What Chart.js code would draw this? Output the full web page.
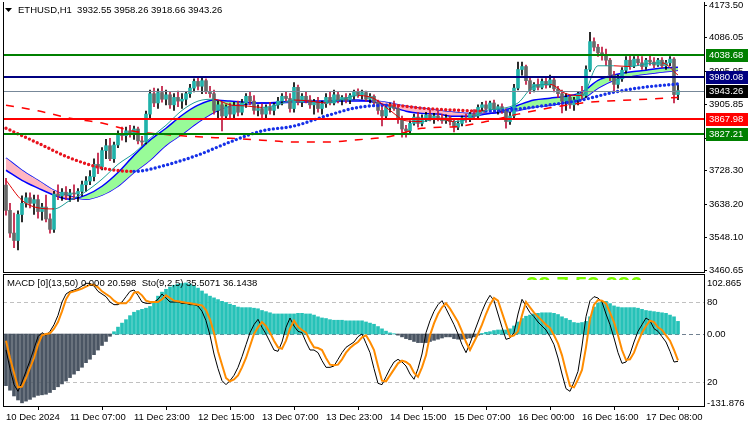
<!DOCTYPE html>
<html><head><meta charset="utf-8">
<script src="https://cdn.jsdelivr.net/npm/chart.js@4.4.1/dist/chart.umd.min.js"></script>
<style>
html,body{margin:0;padding:0;background:#fff;width:750px;height:430px;overflow:hidden}
canvas{position:absolute;left:0}
#c1{top:0}
#c2{top:272px}
</style></head><body>
<canvas id="c1" width="750" height="275"></canvas>
<canvas id="c2" width="750" height="158"></canvas>
<script>
// ---------------- DATA ----------------
const symbolTitle = "ETHUSD,H1  3932.55 3958.26 3918.66 3943.26";
const subTitle = "MACD [0](13,50) 0.000 20.598  Sto(9,2,5) 35.5071 36.1438";
const xTickBars = [0,16,32,48,64,80,96,112,128,144,160];
const xTickLabels = ["10 Dec 2024","11 Dec 07:00","11 Dec 23:00","12 Dec 15:00","13 Dec 07:00","13 Dec 23:00","14 Dec 15:00","15 Dec 07:00","16 Dec 00:00","16 Dec 16:00","17 Dec 08:00"];
const priceTicks = [4173.50,4086.05,3995.95,3905.85,3815.75,3728.30,3638.20,3548.10,3460.65];
const levelPrices = [4038.68,3980.08,3943.26,3867.98,3827.21];
const subLabels = ["102.865","0.00","-131.876"];
const stochLevels = [80,20];

const opens = [3689,3621,3560,3540,3610,3640,3655,3640,3650,3618,3630,3598,3570,3665,3660,3670,3662,3668,3665,3672,3690,3700,3712,3745,3738,3782,3795,3760,3797,3828,3822,3835,3830,3840,3808,3805,3880,3935,3910,3938,3920,3932,3905,3925,3915,3920,3935,3950,3968,3955,3970,3940,3935,3890,3905,3875,3900,3880,3902,3885,3910,3928,3915,3890,3895,3880,3898,3890,3905,3915,3928,3922,3895,3952,3912,3928,3918,3905,3912,3895,3908,3925,3910,3932,3918,3925,3918,3930,3940,3932,3938,3920,3928,3912,3890,3875,3898,3905,3895,3865,3840,3835,3855,3872,3855,3870,3878,3868,3875,3870,3862,3870,3860,3845,3855,3870,3865,3880,3875,3898,3905,3895,3910,3892,3900,3890,3860,3875,3950,4000,4008,3970,3945,3960,3952,3968,3958,3972,3948,3935,3915,3925,3905,3918,3935,3930,4000,4075,4060,4045,4040,4025,3985,3960,3975,3998,4025,4010,4028,4018,4008,4025,4020,4012,4025,4010,4018,4028,3932.55];
const highs = [3707,3640,3614,3620,3660,3668,3668,3662,3662,3640,3662,3612,3672,3690,3680,3685,3678,3690,3680,3700,3712,3728,3760,3775,3790,3812,3815,3805,3835,3845,3845,3850,3848,3845,3820,3888,3945,3950,3948,3955,3945,3940,3935,3942,3935,3940,3960,3975,3980,3978,3975,3955,3945,3915,3912,3905,3910,3912,3915,3920,3935,3940,3930,3905,3908,3905,3912,3910,3925,3935,3940,3935,3965,3958,3935,3940,3930,3920,3925,3915,3935,3940,3945,3940,3930,3935,3935,3945,3948,3945,3942,3935,3932,3918,3905,3902,3910,3915,3905,3875,3850,3862,3880,3885,3878,3885,3890,3882,3888,3880,3878,3875,3865,3862,3875,3880,3885,3892,3905,3912,3915,3915,3918,3905,3908,3895,3885,3960,4020,4020,4012,3980,3965,3975,3975,3978,3985,3980,3955,3945,3935,3930,3925,3940,3955,4010,4100,4085,4068,4060,4055,4030,3995,3985,4005,4035,4040,4035,4040,4035,4030,4040,4032,4030,4032,4025,4035,4032,3958.26];
const lows = [3608,3548,3521,3515,3590,3630,3628,3610,3600,3595,3590,3560,3562,3650,3648,3650,3645,3650,3645,3660,3672,3690,3700,3720,3730,3760,3755,3750,3790,3810,3805,3818,3812,3800,3795,3800,3870,3900,3895,3912,3905,3895,3890,3900,3895,3905,3925,3940,3945,3935,3935,3925,3880,3870,3835,3865,3870,3870,3875,3878,3898,3905,3880,3875,3870,3870,3880,3878,3895,3905,3915,3885,3885,3905,3900,3910,3895,3880,3885,3880,3898,3905,3905,3910,3905,3910,3908,3920,3925,3920,3915,3910,3905,3880,3848,3868,3885,3890,3855,3818,3818,3828,3850,3845,3848,3860,3862,3855,3862,3855,3855,3850,3832,3838,3848,3858,3860,3870,3870,3888,3890,3888,3885,3880,3882,3842,3852,3870,3945,3985,3960,3935,3940,3945,3948,3950,3952,3940,3925,3883,3890,3895,3890,3905,3920,3925,3995,4050,4035,4025,4010,3970,3939,3950,3968,3990,4000,4005,4010,4000,4000,4012,4005,4008,4005,4000,4010,3910,3918.66];
const closes = [3621,3560,3540,3610,3640,3655,3640,3650,3618,3630,3598,3570,3665,3660,3670,3662,3668,3665,3672,3690,3700,3712,3745,3738,3782,3795,3760,3797,3828,3822,3835,3830,3840,3808,3805,3880,3935,3910,3938,3920,3932,3905,3925,3915,3920,3935,3950,3968,3955,3970,3940,3935,3890,3905,3875,3900,3880,3902,3885,3910,3928,3915,3890,3895,3880,3898,3890,3905,3915,3928,3922,3895,3952,3912,3928,3918,3905,3912,3895,3908,3925,3910,3932,3918,3925,3918,3930,3940,3932,3938,3920,3928,3912,3890,3875,3898,3905,3895,3865,3840,3835,3855,3872,3855,3870,3878,3868,3875,3870,3862,3870,3860,3845,3855,3870,3865,3880,3875,3898,3905,3895,3910,3892,3900,3890,3860,3875,3950,4000,4008,3970,3945,3960,3952,3968,3958,3972,3948,3935,3915,3925,3905,3918,3935,3930,4000,4075,4060,4045,4040,4025,3985,3960,3975,3998,4025,4010,4028,4018,4008,4025,4020,4012,4025,4010,4018,4028,3932.55,3943.26];

// moving averages (read every 4 / 8 bars)
const maBars4 = [0,4,8,12,16,20,24,28,32,36,40,44,48,52,56,60,64,68,72,76,80,84,88,92,96,100,104,108,112,116,120,124,128,132,136,140,144,148,152,156,160,164,168];
const fastMA = [3702,3648,3628,3625,3648,3672,3705,3745,3775,3815,3850,3890,3915,3920,3905,3902,3898,3905,3918,3915,3910,3920,3930,3922,3890,3862,3860,3868,3860,3868,3890,3895,3910,3955,3960,3935,3930,4010,4010,4008,4015,4018,3985];
const bandFast = [3729,3702,3681,3662,3651,3662,3686,3723,3769,3810,3842,3877,3904,3918,3915,3912,3910,3912,3915,3915,3915,3918,3918,3912,3901,3888,3882,3880,3874,3874,3880,3888,3904,3918,3923,3928,3939,3971,3985,3993,3998,4004,4006];
const bandSlow = [3762,3729,3702,3675,3659,3651,3662,3686,3723,3756,3796,3826,3858,3885,3902,3907,3910,3910,3912,3912,3912,3915,3915,3915,3910,3901,3896,3890,3885,3882,3882,3885,3890,3899,3904,3912,3920,3950,3971,3982,3988,3993,3998];
const maBars8 = [0,8,16,24,32,40,48,56,64,72,80,88,96,104,112,120,128,136,144,152,160,168];
const dotMA = [3842,3802,3762,3735,3726,3743,3770,3805,3835,3848,3875,3898,3904,3896,3891,3888,3894,3905,3918,3939,3953,3961];
const dashMA = [3904,3889,3869,3856,3834,3825,3819,3815,3810,3805,3805,3811,3820,3842,3846,3860,3880,3897,3910,3916,3920,3925];

// MACD histogram and stochastic (per bar)
const macdHist = [-90,-98,-108,-115,-120,-117,-114,-110,-107,-106,-105,-102,-97,-92,-87,-82,-76,-70,-64,-58,-50,-44,-36,-28,-20,-13,-4,4,12,19,25,32,38,41,43,45,48,56,66,73,78,82,85,87,88,89,87,84,80,75,70,66,63,60,57,55,52,50,47,46,46,46,45,44,41,39,37,35,35,35,35,35,35,36,36,35,35,33,30,28,27,25,24,24,24,23,23,23,23,23,21,19,17,13,9,5,2,0.5,-2,-5,-8,-10,-13,-15,-15,-15,-13,-11,-9,-7,-5,-5,-8,-9,-9,-8,-7,-5,-2,1,3,4,6,7,7,7,9,14,21,27,31,33,35,36,37,37,37,36,34,30,27,24,20,19,20,22,30,47,54,56,57,53,49,47,46,46,46,46,45,43,41,40,39,38,37,36,33,30,22];
const stochSignal = [51,38,27,16,16.5,23,30.5,38,48,55,56,56.5,60,65,73,82,87,88,89,90,91.5,93,93,91,88,86,84,81,79,79,79,82,87,87.5,85,81,80,80,80,82,85,83,81,80.5,80,79.5,79,78.5,78,77.5,74,67,57,43,33,23,20.5,22,25,31,38,47,56,61,65,62,57,51,46,45,51,60,66,61.5,59,57,51,46,45.5,44,38,33,32.5,33,37,42,45.5,48,50,53.5,55,50,44,32,21,20.5,25,29.5,34,36,35,32.75,27,24,31,40,55,64,71,76,79,75,70,65,58,50,44,50,56,63,71,78,83,81,72,63,54,55,58,70,80,76,72,69,66,63,60.5,55,49,40,28,17,16,22,29,46,67,78,81.5,81,79,72,65,55,44,36.5,37,42,50,57,62,66,65,61,59,55,51,44,36.1438];
const stochMain = [44,30,18,13,20,28,36,45,54,57,55,58,63,70,80,86,88,89,90,92,94,94,92,88,86,84,80,78,78,80,84,88,89,85,80,79,79,80,82,86,83,80,80,80,79,79,78,78,77,73,66,55,41,30,21,18,21,25,31,39,48,57,63,67,61,56,50,44,43,50,61,68,62,58,57,50,44,44,42,36,31,31,32,37,42,46,48,50,54,56,49,42,30,19,18,24,30,35,37,35,32,26,22,30,41,57,66,73,78,81,75,69,63,56,48,42,49,57,65,73,80,85,81,71,61,52,53,57,71,82,77,72,69,65,62,59,54,48,38,26,15,13,20,28,47,69,81,84,83,80,71,63,53,42,34,35,41,50,58,63,68,66,60,58,54,50,43,35,35.5071];

// ---------------- RENDER ----------------
const FONT = "'Liberation Sans', Arial, sans-serif";
const FS = 9.5;
const BULL = '#20B2AA', BEAR = '#696969';
const X_MIN = -0.75, X_MAX = 174.5;
const toPts = (xs, ys) => ys.map((v, k) => ({x: xs[k], y: v}));
const idx = closes.map((_, i) => i);
const slopeColor = (up, down) => ({borderColor: c => c.p1.parsed.y < c.p0.parsed.y ? down : up});
const noPadV = s => { s.paddingTop = 0; s.paddingBottom = 0; };
const noPadH = s => { s.paddingLeft = 0; s.paddingRight = 0; };

const levelStyle = [
  {line:'#008000', box:'#008000', w:2},
  {line:'#000080', box:'#000080', w:2},
  {line:'#778899', box:'#000000', w:1},
  {line:'#FF0000', box:'#FF0000', w:2},
  {line:'#008000', box:'#008000', w:2}
];

const mainDecor = {
  id: 'mainDecor',
  afterDatasetsDraw(chart) {
    const {ctx, chartArea: a, scales: {y}} = chart;
    ctx.save();
    levelPrices.forEach((p, k) => {
      const st = levelStyle[k];
      let py = Math.round(y.getPixelForValue(p));
      if (st.w % 2) py += 0.5;
      ctx.strokeStyle = st.line; ctx.lineWidth = st.w;
      ctx.beginPath(); ctx.moveTo(a.left, py); ctx.lineTo(a.right, py); ctx.stroke();
    });
    ctx.restore();
  },
  afterDraw(chart) {
    const {ctx, chartArea: a, scales: {y}} = chart;
    ctx.save();
    ctx.strokeStyle = '#000'; ctx.lineWidth = 1;
    ctx.beginPath();
    ctx.moveTo(3.5, a.top); ctx.lineTo(3.5, a.bottom + 0.5);
    ctx.moveTo(3, a.bottom + 0.5); ctx.lineTo(a.right + 1, a.bottom + 0.5);
    ctx.stroke();
    ctx.font = FS + 'px ' + FONT; ctx.textBaseline = 'middle';
    levelPrices.forEach((p, k) => {
      const st = levelStyle[k];
      const py = Math.round(y.getPixelForValue(p));
      ctx.fillStyle = st.box; ctx.fillRect(a.right + 2, py - 6, 42, 13);
      ctx.fillStyle = '#fff'; ctx.fillText(p.toFixed(2), a.right + 5, py + 0.5);
    });
    ctx.fillStyle = '#000';
    ctx.beginPath(); ctx.moveTo(5, 8); ctx.lineTo(12, 8); ctx.lineTo(8.5, 12); ctx.closePath(); ctx.fill();
    ctx.fillText(symbolTitle, 18, 10.5);
    ctx.restore();
  }
};

new Chart(document.getElementById('c1'), {
  type: 'line',
  data: { datasets: [
    { type:'line', data: toPts(maBars4, bandSlow), borderColor:'#0000FF', borderWidth:1.5, pointRadius:0, cubicInterpolationMode:'monotone', fill:false, order:60 },
    { type:'line', data: toPts(maBars4, bandFast), borderColor:'#0000FF', borderWidth:1.5, pointRadius:0, cubicInterpolationMode:'monotone',
      fill: {target: 0, above:'#98FB98', below:'#FFB6C1'}, order:50 },
    { type:'bar', data: idx.map(i => ({x:i, y:[lows[i], highs[i]]})), barThickness:1, grouped:false, order:40,
      backgroundColor: c => (c.dataIndex !== undefined && closes[c.dataIndex] < opens[c.dataIndex]) ? '#C0143C' : '#000000' },
    { type:'bar', data: idx.map(i => ({x:i, y:[opens[i], closes[i]]})), barThickness:3, grouped:false, order:30, minBarLength:1,
      backgroundColor: c => (c.dataIndex !== undefined && closes[c.dataIndex] < opens[c.dataIndex]) ? BEAR : BULL },
    { type:'line', data: toPts(maBars8, dashMA), borderColor:'#FF0000', borderWidth:1.5, borderDash:[8,8], pointRadius:0, cubicInterpolationMode:'monotone', fill:false, order:20 },
    { type:'line', data: toPts(maBars8, dotMA), borderColor:'#1530E8', borderWidth:3.4, borderDash:[0,4.3], borderCapStyle:'round', pointRadius:0, cubicInterpolationMode:'monotone', fill:false, order:15,
      segment: slopeColor('#1530E8', '#E8141E') },
    { type:'line', data: toPts(maBars4, fastMA), borderColor:'#1E9C96', borderWidth:1, pointRadius:0, cubicInterpolationMode:'monotone', fill:false, order:10,
      segment: slopeColor('#1E9C96', '#E00000') }
  ]},
  options: {
    responsive:false, animation:false, devicePixelRatio:1,
    layout: { padding: {left:3, top:2, right:0, bottom:3} },
    plugins: { legend:{display:false}, tooltip:{enabled:false} },
    scales: {
      x: { type:'linear', min:X_MIN, max:X_MAX, offset:false, display:false },
      y: { position:'right', min:3455.3, max:4181.6,
        afterFit: s => { s.width = 46; noPadV(s); },
        afterBuildTicks: s => { s.ticks = priceTicks.map(v => ({value:v})); },
        ticks: { autoSkip:false, padding:2, color:'#000', font:{family:FONT, size:FS}, callback: v => Number(v).toFixed(2) },
        grid: { drawOnChartArea:false, tickLength:3, color:'#000', tickColor:'#000' },
        border: { color:'#000' }
      }
    }
  },
  plugins: [mainDecor]
});

const subDecor = {
  id: 'subDecor',
  beforeDatasetsDraw(chart) {
    const {ctx, chartArea: a, scales: {yS, yM}} = chart;
    ctx.save();
    ctx.beginPath(); ctx.rect(a.left, a.top, a.right - a.left, 6); ctx.clip();
    ctx.fillStyle = '#7CFC00'; ctx.font = 'bold 22px ' + FONT; ctx.textBaseline = 'alphabetic';
    ctx.fillText('38 7.53.886', 526, a.top + 18);
    ctx.restore();
    ctx.save();
    ctx.lineWidth = 1; ctx.setLineDash([4,3]);
    stochLevels.forEach(v => {
      const py = Math.round(yS.getPixelForValue(v)) + 0.5;
      ctx.strokeStyle = '#C0C0C0';
      ctx.beginPath(); ctx.moveTo(a.left, py); ctx.lineTo(a.right, py); ctx.stroke();
    });
    const pz = Math.round(yM.getPixelForValue(0)) + 0.5;
    ctx.strokeStyle = '#708090';
    ctx.beginPath(); ctx.moveTo(a.left, pz); ctx.lineTo(a.right, pz); ctx.stroke();
    ctx.restore();
  },
  afterDraw(chart) {
    const {ctx, chartArea: a, scales: {yM}} = chart;
    ctx.save();
    ctx.strokeStyle = '#000'; ctx.lineWidth = 1;
    ctx.beginPath();
    ctx.moveTo(3, a.top + 0.5); ctx.lineTo(a.right + 1, a.top + 0.5);
    ctx.moveTo(3.5, a.top); ctx.lineTo(3.5, a.bottom + 1);
    ctx.stroke();
    ctx.font = FS + 'px ' + FONT; ctx.textBaseline = 'middle'; ctx.fillStyle = '#000';
    ctx.fillText(subTitle, 7, a.top + 9.5);
    const lx = a.right + 3;
    ctx.fillText(subLabels[0], lx, a.top + 9);
    ctx.fillText(subLabels[1], lx, Math.round(yM.getPixelForValue(0)) + 0.5);
    ctx.fillText(subLabels[2], lx, a.bottom - 3);
    ctx.restore();
  }
};

new Chart(document.getElementById('c2'), {
  type: 'line',
  data: { datasets: [
    { type:'bar', yAxisID:'yM', data: toPts(idx, macdHist), barThickness:3, grouped:false, order:30,
      backgroundColor: c => (c.raw && c.raw.y < 0) ? '#4A5563' : '#26C2B8' },
    { type:'line', yAxisID:'yS', data: toPts(idx, stochMain), borderColor:'#000', borderWidth:1, pointRadius:0, tension:0, fill:false, order:20 },
    { type:'line', yAxisID:'yS', data: toPts(idx, stochSignal), borderColor:'#FF8C00', borderWidth:2, pointRadius:0, tension:0, fill:false, order:10 }
  ]},
  options: {
    responsive:false, animation:false, devicePixelRatio:1,
    layout: { padding: {left:3, top:2, right:0, bottom:0} },
    plugins: { legend:{display:false}, tooltip:{enabled:false} },
    scales: {
      x: { type:'linear', min:X_MIN, max:X_MAX, offset:false, position:'bottom',
        afterFit: s => { s.height = 24; noPadH(s); },
        afterBuildTicks: s => { s.ticks = xTickBars.map(v => ({value:v})); },
        ticks: { autoSkip:false, maxRotation:0, align:'start', padding:2, color:'#000', font:{family:FONT, size:FS},
          callback: (v, i) => xTickLabels[i] },
        grid: { drawOnChartArea:false, tickLength:4, color:'#000', tickColor:'#000' },
        border: { color:'#000' }
      },
      yM: { position:'left', display:false, min:-125.5, max:104.6 },
      yS: { position:'right', min:2, max:101,
        afterFit: s => { s.width = 46; noPadV(s); },
        afterBuildTicks: s => { s.ticks = stochLevels.map(v => ({value:v})); },
        ticks: { autoSkip:false, padding:3, color:'#000', font:{family:FONT, size:FS}, callback: v => String(v) },
        grid: { drawOnChartArea:false, drawTicks:false },
        border: { color:'#000' }
      }
    }
  },
  plugins: [subDecor]
});
</script></body></html>
